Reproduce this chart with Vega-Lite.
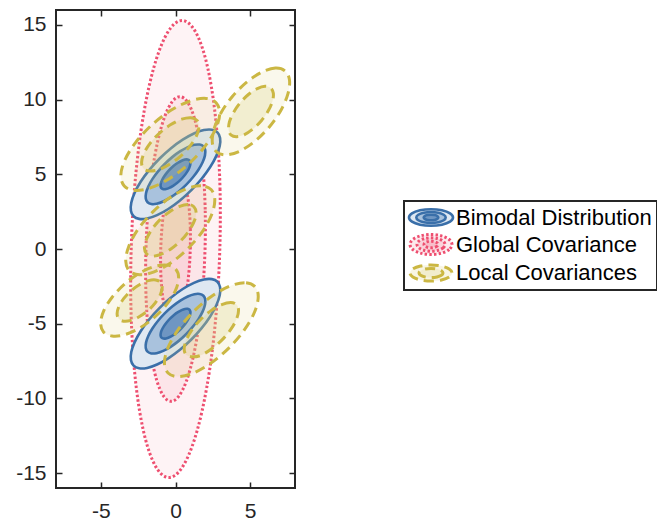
{
"$schema": "https://vega.github.io/schema/vega-lite/v6.json",
"padding": {"left": 5, "top": 8, "right": 0, "bottom": 0},
"config": {"font": "Liberation Sans", "view": {"stroke": null}},
"datasets": {
"bim": [
{"id":"u3","k":3,"i":0,"x":2.806,"y":7.806},{"id":"u3","k":3,"i":1,"x":2.436,"y":7.985},{"id":"u3","k":3,"i":2,"x":1.9,"y":7.961},{"id":"u3","k":3,"i":3,"x":1.234,"y":7.734},{"id":"u3","k":3,"i":4,"x":0.485,"y":7.322},{"id":"u3","k":3,"i":5,"x":-0.298,"y":6.751},{"id":"u3","k":3,"i":6,"x":-1.061,"y":6.061},{"id":"u3","k":3,"i":7,"x":-1.751,"y":5.298},{"id":"u3","k":3,"i":8,"x":-2.322,"y":4.515},{"id":"u3","k":3,"i":9,"x":-2.734,"y":3.766},{"id":"u3","k":3,"i":10,"x":-2.961,"y":3.1},{"id":"u3","k":3,"i":11,"x":-2.985,"y":2.564},{"id":"u3","k":3,"i":12,"x":-2.806,"y":2.194},{"id":"u3","k":3,"i":13,"x":-2.436,"y":2.015},{"id":"u3","k":3,"i":14,"x":-1.9,"y":2.039},{"id":"u3","k":3,"i":15,"x":-1.234,"y":2.266},{"id":"u3","k":3,"i":16,"x":-0.485,"y":2.678},{"id":"u3","k":3,"i":17,"x":0.298,"y":3.249},{"id":"u3","k":3,"i":18,"x":1.061,"y":3.939},{"id":"u3","k":3,"i":19,"x":1.751,"y":4.702},{"id":"u3","k":3,"i":20,"x":2.322,"y":5.485},{"id":"u3","k":3,"i":21,"x":2.734,"y":6.234},{"id":"u3","k":3,"i":22,"x":2.961,"y":6.9},{"id":"u3","k":3,"i":23,"x":2.985,"y":7.436},
{"id":"l3","k":3,"i":0,"x":2.806,"y":-2.194},{"id":"l3","k":3,"i":1,"x":2.436,"y":-2.015},{"id":"l3","k":3,"i":2,"x":1.9,"y":-2.039},{"id":"l3","k":3,"i":3,"x":1.234,"y":-2.266},{"id":"l3","k":3,"i":4,"x":0.485,"y":-2.678},{"id":"l3","k":3,"i":5,"x":-0.298,"y":-3.249},{"id":"l3","k":3,"i":6,"x":-1.061,"y":-3.939},{"id":"l3","k":3,"i":7,"x":-1.751,"y":-4.702},{"id":"l3","k":3,"i":8,"x":-2.322,"y":-5.485},{"id":"l3","k":3,"i":9,"x":-2.734,"y":-6.234},{"id":"l3","k":3,"i":10,"x":-2.961,"y":-6.9},{"id":"l3","k":3,"i":11,"x":-2.985,"y":-7.436},{"id":"l3","k":3,"i":12,"x":-2.806,"y":-7.806},{"id":"l3","k":3,"i":13,"x":-2.436,"y":-7.985},{"id":"l3","k":3,"i":14,"x":-1.9,"y":-7.961},{"id":"l3","k":3,"i":15,"x":-1.234,"y":-7.734},{"id":"l3","k":3,"i":16,"x":-0.485,"y":-7.322},{"id":"l3","k":3,"i":17,"x":0.298,"y":-6.751},{"id":"l3","k":3,"i":18,"x":1.061,"y":-6.061},{"id":"l3","k":3,"i":19,"x":1.751,"y":-5.298},{"id":"l3","k":3,"i":20,"x":2.322,"y":-4.515},{"id":"l3","k":3,"i":21,"x":2.734,"y":-3.766},{"id":"l3","k":3,"i":22,"x":2.961,"y":-3.1},{"id":"l3","k":3,"i":23,"x":2.985,"y":-2.564},
{"id":"u2","k":2,"i":0,"x":1.871,"y":6.871},{"id":"u2","k":2,"i":1,"x":1.624,"y":6.99},{"id":"u2","k":2,"i":2,"x":1.267,"y":6.974},{"id":"u2","k":2,"i":3,"x":0.823,"y":6.823},{"id":"u2","k":2,"i":4,"x":0.323,"y":6.548},{"id":"u2","k":2,"i":5,"x":-0.199,"y":6.167},{"id":"u2","k":2,"i":6,"x":-0.707,"y":5.707},{"id":"u2","k":2,"i":7,"x":-1.167,"y":5.199},{"id":"u2","k":2,"i":8,"x":-1.548,"y":4.677},{"id":"u2","k":2,"i":9,"x":-1.823,"y":4.177},{"id":"u2","k":2,"i":10,"x":-1.974,"y":3.733},{"id":"u2","k":2,"i":11,"x":-1.99,"y":3.376},{"id":"u2","k":2,"i":12,"x":-1.871,"y":3.129},{"id":"u2","k":2,"i":13,"x":-1.624,"y":3.01},{"id":"u2","k":2,"i":14,"x":-1.267,"y":3.026},{"id":"u2","k":2,"i":15,"x":-0.823,"y":3.177},{"id":"u2","k":2,"i":16,"x":-0.323,"y":3.452},{"id":"u2","k":2,"i":17,"x":0.199,"y":3.833},{"id":"u2","k":2,"i":18,"x":0.707,"y":4.293},{"id":"u2","k":2,"i":19,"x":1.167,"y":4.801},{"id":"u2","k":2,"i":20,"x":1.548,"y":5.323},{"id":"u2","k":2,"i":21,"x":1.823,"y":5.823},{"id":"u2","k":2,"i":22,"x":1.974,"y":6.267},{"id":"u2","k":2,"i":23,"x":1.99,"y":6.624},
{"id":"l2","k":2,"i":0,"x":1.871,"y":-3.129},{"id":"l2","k":2,"i":1,"x":1.624,"y":-3.01},{"id":"l2","k":2,"i":2,"x":1.267,"y":-3.026},{"id":"l2","k":2,"i":3,"x":0.823,"y":-3.177},{"id":"l2","k":2,"i":4,"x":0.323,"y":-3.452},{"id":"l2","k":2,"i":5,"x":-0.199,"y":-3.833},{"id":"l2","k":2,"i":6,"x":-0.707,"y":-4.293},{"id":"l2","k":2,"i":7,"x":-1.167,"y":-4.801},{"id":"l2","k":2,"i":8,"x":-1.548,"y":-5.323},{"id":"l2","k":2,"i":9,"x":-1.823,"y":-5.823},{"id":"l2","k":2,"i":10,"x":-1.974,"y":-6.267},{"id":"l2","k":2,"i":11,"x":-1.99,"y":-6.624},{"id":"l2","k":2,"i":12,"x":-1.871,"y":-6.871},{"id":"l2","k":2,"i":13,"x":-1.624,"y":-6.99},{"id":"l2","k":2,"i":14,"x":-1.267,"y":-6.974},{"id":"l2","k":2,"i":15,"x":-0.823,"y":-6.823},{"id":"l2","k":2,"i":16,"x":-0.323,"y":-6.548},{"id":"l2","k":2,"i":17,"x":0.199,"y":-6.167},{"id":"l2","k":2,"i":18,"x":0.707,"y":-5.707},{"id":"l2","k":2,"i":19,"x":1.167,"y":-5.199},{"id":"l2","k":2,"i":20,"x":1.548,"y":-4.677},{"id":"l2","k":2,"i":21,"x":1.823,"y":-4.177},{"id":"l2","k":2,"i":22,"x":1.974,"y":-3.733},{"id":"l2","k":2,"i":23,"x":1.99,"y":-3.376},
{"id":"u1","k":1,"i":0,"x":0.935,"y":5.935},{"id":"u1","k":1,"i":1,"x":0.812,"y":5.995},{"id":"u1","k":1,"i":2,"x":0.633,"y":5.987},{"id":"u1","k":1,"i":3,"x":0.411,"y":5.911},{"id":"u1","k":1,"i":4,"x":0.162,"y":5.774},{"id":"u1","k":1,"i":5,"x":-0.099,"y":5.584},{"id":"u1","k":1,"i":6,"x":-0.354,"y":5.354},{"id":"u1","k":1,"i":7,"x":-0.584,"y":5.099},{"id":"u1","k":1,"i":8,"x":-0.774,"y":4.838},{"id":"u1","k":1,"i":9,"x":-0.911,"y":4.589},{"id":"u1","k":1,"i":10,"x":-0.987,"y":4.367},{"id":"u1","k":1,"i":11,"x":-0.995,"y":4.188},{"id":"u1","k":1,"i":12,"x":-0.935,"y":4.065},{"id":"u1","k":1,"i":13,"x":-0.812,"y":4.005},{"id":"u1","k":1,"i":14,"x":-0.633,"y":4.013},{"id":"u1","k":1,"i":15,"x":-0.411,"y":4.089},{"id":"u1","k":1,"i":16,"x":-0.162,"y":4.226},{"id":"u1","k":1,"i":17,"x":0.099,"y":4.416},{"id":"u1","k":1,"i":18,"x":0.354,"y":4.646},{"id":"u1","k":1,"i":19,"x":0.584,"y":4.901},{"id":"u1","k":1,"i":20,"x":0.774,"y":5.162},{"id":"u1","k":1,"i":21,"x":0.911,"y":5.411},{"id":"u1","k":1,"i":22,"x":0.987,"y":5.633},{"id":"u1","k":1,"i":23,"x":0.995,"y":5.812},
{"id":"l1","k":1,"i":0,"x":0.935,"y":-4.065},{"id":"l1","k":1,"i":1,"x":0.812,"y":-4.005},{"id":"l1","k":1,"i":2,"x":0.633,"y":-4.013},{"id":"l1","k":1,"i":3,"x":0.411,"y":-4.089},{"id":"l1","k":1,"i":4,"x":0.162,"y":-4.226},{"id":"l1","k":1,"i":5,"x":-0.099,"y":-4.416},{"id":"l1","k":1,"i":6,"x":-0.354,"y":-4.646},{"id":"l1","k":1,"i":7,"x":-0.584,"y":-4.901},{"id":"l1","k":1,"i":8,"x":-0.774,"y":-5.162},{"id":"l1","k":1,"i":9,"x":-0.911,"y":-5.411},{"id":"l1","k":1,"i":10,"x":-0.987,"y":-5.633},{"id":"l1","k":1,"i":11,"x":-0.995,"y":-5.812},{"id":"l1","k":1,"i":12,"x":-0.935,"y":-5.935},{"id":"l1","k":1,"i":13,"x":-0.812,"y":-5.995},{"id":"l1","k":1,"i":14,"x":-0.633,"y":-5.987},{"id":"l1","k":1,"i":15,"x":-0.411,"y":-5.911},{"id":"l1","k":1,"i":16,"x":-0.162,"y":-5.774},{"id":"l1","k":1,"i":17,"x":0.099,"y":-5.584},{"id":"l1","k":1,"i":18,"x":0.354,"y":-5.354},{"id":"l1","k":1,"i":19,"x":0.584,"y":-5.099},{"id":"l1","k":1,"i":20,"x":0.774,"y":-4.838},{"id":"l1","k":1,"i":21,"x":0.911,"y":-4.589},{"id":"l1","k":1,"i":22,"x":0.987,"y":-4.367},{"id":"l1","k":1,"i":23,"x":0.995,"y":-4.188}
],
"glob": [
{"id":"g3","i":0,"x":2.967,"y":0},{"id":"g3","i":1,"x":2.982,"y":3.96},{"id":"g3","i":2,"x":2.79,"y":7.65},{"id":"g3","i":3,"x":2.409,"y":10.818},{"id":"g3","i":4,"x":1.866,"y":13.248},{"id":"g3","i":5,"x":1.194,"y":14.775},{"id":"g3","i":6,"x":0.441,"y":15.297},{"id":"g3","i":7,"x":-0.342,"y":14.775},{"id":"g3","i":8,"x":-1.101,"y":13.248},{"id":"g3","i":9,"x":-1.785,"y":10.818},{"id":"g3","i":10,"x":-2.349,"y":7.65},{"id":"g3","i":11,"x":-2.751,"y":3.96},{"id":"g3","i":12,"x":-2.967,"y":0},{"id":"g3","i":13,"x":-2.982,"y":-3.96},{"id":"g3","i":14,"x":-2.79,"y":-7.65},{"id":"g3","i":15,"x":-2.409,"y":-10.818},{"id":"g3","i":16,"x":-1.866,"y":-13.248},{"id":"g3","i":17,"x":-1.194,"y":-14.775},{"id":"g3","i":18,"x":-0.441,"y":-15.297},{"id":"g3","i":19,"x":0.342,"y":-14.775},{"id":"g3","i":20,"x":1.101,"y":-13.248},{"id":"g3","i":21,"x":1.785,"y":-10.818},{"id":"g3","i":22,"x":2.349,"y":-7.65},{"id":"g3","i":23,"x":2.751,"y":-3.96},
{"id":"g2","i":0,"x":1.978,"y":0},{"id":"g2","i":1,"x":1.988,"y":2.64},{"id":"g2","i":2,"x":1.86,"y":5.1},{"id":"g2","i":3,"x":1.606,"y":7.212},{"id":"g2","i":4,"x":1.244,"y":8.832},{"id":"g2","i":5,"x":0.796,"y":9.85},{"id":"g2","i":6,"x":0.294,"y":10.198},{"id":"g2","i":7,"x":-0.228,"y":9.85},{"id":"g2","i":8,"x":-0.734,"y":8.832},{"id":"g2","i":9,"x":-1.19,"y":7.212},{"id":"g2","i":10,"x":-1.566,"y":5.1},{"id":"g2","i":11,"x":-1.834,"y":2.64},{"id":"g2","i":12,"x":-1.978,"y":0},{"id":"g2","i":13,"x":-1.988,"y":-2.64},{"id":"g2","i":14,"x":-1.86,"y":-5.1},{"id":"g2","i":15,"x":-1.606,"y":-7.212},{"id":"g2","i":16,"x":-1.244,"y":-8.832},{"id":"g2","i":17,"x":-0.796,"y":-9.85},{"id":"g2","i":18,"x":-0.294,"y":-10.198},{"id":"g2","i":19,"x":0.228,"y":-9.85},{"id":"g2","i":20,"x":0.734,"y":-8.832},{"id":"g2","i":21,"x":1.19,"y":-7.212},{"id":"g2","i":22,"x":1.566,"y":-5.1},{"id":"g2","i":23,"x":1.834,"y":-2.64},
{"id":"g1","i":0,"x":0.989,"y":0},{"id":"g1","i":1,"x":0.994,"y":1.32},{"id":"g1","i":2,"x":0.93,"y":2.55},{"id":"g1","i":3,"x":0.803,"y":3.606},{"id":"g1","i":4,"x":0.622,"y":4.416},{"id":"g1","i":5,"x":0.398,"y":4.925},{"id":"g1","i":6,"x":0.147,"y":5.099},{"id":"g1","i":7,"x":-0.114,"y":4.925},{"id":"g1","i":8,"x":-0.367,"y":4.416},{"id":"g1","i":9,"x":-0.595,"y":3.606},{"id":"g1","i":10,"x":-0.783,"y":2.55},{"id":"g1","i":11,"x":-0.917,"y":1.32},{"id":"g1","i":12,"x":-0.989,"y":0},{"id":"g1","i":13,"x":-0.994,"y":-1.32},{"id":"g1","i":14,"x":-0.93,"y":-2.55},{"id":"g1","i":15,"x":-0.803,"y":-3.606},{"id":"g1","i":16,"x":-0.622,"y":-4.416},{"id":"g1","i":17,"x":-0.398,"y":-4.925},{"id":"g1","i":18,"x":-0.147,"y":-5.099},{"id":"g1","i":19,"x":0.114,"y":-4.925},{"id":"g1","i":20,"x":0.367,"y":-4.416},{"id":"g1","i":21,"x":0.595,"y":-3.606},{"id":"g1","i":22,"x":0.783,"y":-2.55},{"id":"g1","i":23,"x":0.917,"y":-1.32}
],
"loc": [
{"id":"L1o","r":"o","i":0,"x":7.33,"y":11.92},{"id":"L1o","r":"o","i":1,"x":6.69,"y":12.11},{"id":"L1o","r":"o","i":2,"x":5.8,"y":11.85},{"id":"L1o","r":"o","i":3,"x":4.79,"y":11.19},{"id":"L1o","r":"o","i":4,"x":3.82,"y":10.23},{"id":"L1o","r":"o","i":5,"x":3.04,"y":9.11},{"id":"L1o","r":"o","i":6,"x":2.57,"y":8.0},{"id":"L1o","r":"o","i":7,"x":2.47,"y":7.08},{"id":"L1o","r":"o","i":8,"x":2.77,"y":6.48},{"id":"L1o","r":"o","i":9,"x":3.41,"y":6.3},{"id":"L1o","r":"o","i":10,"x":4.3,"y":6.55},{"id":"L1o","r":"o","i":11,"x":5.31,"y":7.21},{"id":"L1o","r":"o","i":12,"x":6.28,"y":8.17},{"id":"L1o","r":"o","i":13,"x":7.06,"y":9.29},{"id":"L1o","r":"o","i":14,"x":7.53,"y":10.4},{"id":"L1o","r":"o","i":15,"x":7.63,"y":11.32},
{"id":"L1i","r":"i","i":0,"x":6.37,"y":10.78},{"id":"L1i","r":"i","i":1,"x":6.0,"y":10.89},{"id":"L1i","r":"i","i":2,"x":5.48,"y":10.74},{"id":"L1i","r":"i","i":3,"x":4.9,"y":10.36},{"id":"L1i","r":"i","i":4,"x":4.34,"y":9.8},{"id":"L1i","r":"i","i":5,"x":3.89,"y":9.15},{"id":"L1i","r":"i","i":6,"x":3.61,"y":8.51},{"id":"L1i","r":"i","i":7,"x":3.56,"y":7.97},{"id":"L1i","r":"i","i":8,"x":3.73,"y":7.62},{"id":"L1i","r":"i","i":9,"x":4.1,"y":7.52},{"id":"L1i","r":"i","i":10,"x":4.62,"y":7.66},{"id":"L1i","r":"i","i":11,"x":5.2,"y":8.05},{"id":"L1i","r":"i","i":12,"x":5.76,"y":8.6},{"id":"L1i","r":"i","i":13,"x":6.21,"y":9.25},{"id":"L1i","r":"i","i":14,"x":6.49,"y":9.89},{"id":"L1i","r":"i","i":15,"x":6.55,"y":10.43},
{"id":"L2o","r":"o","i":0,"x":2.73,"y":9.78},{"id":"L2o","r":"o","i":1,"x":2.04,"y":10.08},{"id":"L2o","r":"o","i":2,"x":0.98,"y":9.91},{"id":"L2o","r":"o","i":3,"x":-0.28,"y":9.3},{"id":"L2o","r":"o","i":4,"x":-1.55,"y":8.34},{"id":"L2o","r":"o","i":5,"x":-2.64,"y":7.17},{"id":"L2o","r":"o","i":6,"x":-3.38,"y":5.98},{"id":"L2o","r":"o","i":7,"x":-3.66,"y":4.95},{"id":"L2o","r":"o","i":8,"x":-3.43,"y":4.22},{"id":"L2o","r":"o","i":9,"x":-2.74,"y":3.92},{"id":"L2o","r":"o","i":10,"x":-1.68,"y":4.09},{"id":"L2o","r":"o","i":11,"x":-0.42,"y":4.7},{"id":"L2o","r":"o","i":12,"x":0.85,"y":5.66},{"id":"L2o","r":"o","i":13,"x":1.94,"y":6.83},{"id":"L2o","r":"o","i":14,"x":2.68,"y":8.02},{"id":"L2o","r":"o","i":15,"x":2.96,"y":9.05},
{"id":"L2i","r":"i","i":0,"x":1.44,"y":8.61},{"id":"L2i","r":"i","i":1,"x":1.04,"y":8.79},{"id":"L2i","r":"i","i":2,"x":0.42,"y":8.69},{"id":"L2i","r":"i","i":3,"x":-0.31,"y":8.33},{"id":"L2i","r":"i","i":4,"x":-1.05,"y":7.78},{"id":"L2i","r":"i","i":5,"x":-1.68,"y":7.1},{"id":"L2i","r":"i","i":6,"x":-2.11,"y":6.41},{"id":"L2i","r":"i","i":7,"x":-2.27,"y":5.81},{"id":"L2i","r":"i","i":8,"x":-2.14,"y":5.39},{"id":"L2i","r":"i","i":9,"x":-1.74,"y":5.22},{"id":"L2i","r":"i","i":10,"x":-1.12,"y":5.31},{"id":"L2i","r":"i","i":11,"x":-0.39,"y":5.67},{"id":"L2i","r":"i","i":12,"x":0.35,"y":6.22},{"id":"L2i","r":"i","i":13,"x":0.98,"y":6.9},{"id":"L2i","r":"i","i":14,"x":1.41,"y":7.59},{"id":"L2i","r":"i","i":15,"x":1.57,"y":8.19},
{"id":"L3o","r":"o","i":0,"x":2.38,"y":3.98},{"id":"L3o","r":"o","i":1,"x":1.71,"y":4.23},{"id":"L3o","r":"o","i":2,"x":0.73,"y":4.03},{"id":"L3o","r":"o","i":3,"x":-0.42,"y":3.41},{"id":"L3o","r":"o","i":4,"x":-1.55,"y":2.45},{"id":"L3o","r":"o","i":5,"x":-2.51,"y":1.32},{"id":"L3o","r":"o","i":6,"x":-3.13,"y":0.17},{"id":"L3o","r":"o","i":7,"x":-3.33,"y":-0.81},{"id":"L3o","r":"o","i":8,"x":-3.08,"y":-1.48},{"id":"L3o","r":"o","i":9,"x":-2.41,"y":-1.73},{"id":"L3o","r":"o","i":10,"x":-1.43,"y":-1.53},{"id":"L3o","r":"o","i":11,"x":-0.28,"y":-0.91},{"id":"L3o","r":"o","i":12,"x":0.85,"y":0.05},{"id":"L3o","r":"o","i":13,"x":1.81,"y":1.18},{"id":"L3o","r":"o","i":14,"x":2.43,"y":2.33},{"id":"L3o","r":"o","i":15,"x":2.63,"y":3.31},
{"id":"L3i","r":"i","i":0,"x":1.23,"y":2.83},{"id":"L3i","r":"i","i":1,"x":0.85,"y":2.98},{"id":"L3i","r":"i","i":2,"x":0.28,"y":2.86},{"id":"L3i","r":"i","i":3,"x":-0.39,"y":2.5},{"id":"L3i","r":"i","i":4,"x":-1.05,"y":1.95},{"id":"L3i","r":"i","i":5,"x":-1.6,"y":1.29},{"id":"L3i","r":"i","i":6,"x":-1.96,"y":0.62},{"id":"L3i","r":"i","i":7,"x":-2.08,"y":0.06},{"id":"L3i","r":"i","i":8,"x":-1.93,"y":-0.33},{"id":"L3i","r":"i","i":9,"x":-1.55,"y":-0.48},{"id":"L3i","r":"i","i":10,"x":-0.98,"y":-0.36},{"id":"L3i","r":"i","i":11,"x":-0.31,"y":0.0},{"id":"L3i","r":"i","i":12,"x":0.35,"y":0.55},{"id":"L3i","r":"i","i":13,"x":0.9,"y":1.21},{"id":"L3i","r":"i","i":14,"x":1.26,"y":1.88},{"id":"L3i","r":"i","i":15,"x":1.38,"y":2.44},
{"id":"L4o","r":"o","i":0,"x":0.02,"y":-1.35},{"id":"L4o","r":"o","i":1,"x":-0.55,"y":-1.08},{"id":"L4o","r":"o","i":2,"x":-1.39,"y":-1.17},{"id":"L4o","r":"o","i":3,"x":-2.39,"y":-1.6},{"id":"L4o","r":"o","i":4,"x":-3.38,"y":-2.32},{"id":"L4o","r":"o","i":5,"x":-4.23,"y":-3.21},{"id":"L4o","r":"o","i":6,"x":-4.8,"y":-4.13},{"id":"L4o","r":"o","i":7,"x":-5.01,"y":-4.96},{"id":"L4o","r":"o","i":8,"x":-4.82,"y":-5.55},{"id":"L4o","r":"o","i":9,"x":-4.25,"y":-5.82},{"id":"L4o","r":"o","i":10,"x":-3.41,"y":-5.74},{"id":"L4o","r":"o","i":11,"x":-2.41,"y":-5.3},{"id":"L4o","r":"o","i":12,"x":-1.42,"y":-4.58},{"id":"L4o","r":"o","i":13,"x":-0.57,"y":-3.69},{"id":"L4o","r":"o","i":14,"x":0.0,"y":-2.77},{"id":"L4o","r":"o","i":15,"x":0.21,"y":-1.94},
{"id":"L4i","r":"i","i":0,"x":-1.0,"y":-2.23},{"id":"L4i","r":"i","i":1,"x":-1.33,"y":-2.07},{"id":"L4i","r":"i","i":2,"x":-1.81,"y":-2.12},{"id":"L4i","r":"i","i":3,"x":-2.39,"y":-2.38},{"id":"L4i","r":"i","i":4,"x":-2.97,"y":-2.79},{"id":"L4i","r":"i","i":5,"x":-3.46,"y":-3.31},{"id":"L4i","r":"i","i":6,"x":-3.79,"y":-3.85},{"id":"L4i","r":"i","i":7,"x":-3.91,"y":-4.32},{"id":"L4i","r":"i","i":8,"x":-3.8,"y":-4.67},{"id":"L4i","r":"i","i":9,"x":-3.48,"y":-4.83},{"id":"L4i","r":"i","i":10,"x":-2.99,"y":-4.78},{"id":"L4i","r":"i","i":11,"x":-2.41,"y":-4.52},{"id":"L4i","r":"i","i":12,"x":-1.83,"y":-4.11},{"id":"L4i","r":"i","i":13,"x":-1.34,"y":-3.59},{"id":"L4i","r":"i","i":14,"x":-1.01,"y":-3.05},{"id":"L4i","r":"i","i":15,"x":-0.89,"y":-2.58},
{"id":"L5o","r":"o","i":0,"x":5.3,"y":-2.5},{"id":"L5o","r":"o","i":1,"x":4.62,"y":-2.26},{"id":"L5o","r":"o","i":2,"x":3.6,"y":-2.5},{"id":"L5o","r":"o","i":3,"x":2.4,"y":-3.18},{"id":"L5o","r":"o","i":4,"x":1.2,"y":-4.2},{"id":"L5o","r":"o","i":5,"x":0.18,"y":-5.4},{"id":"L5o","r":"o","i":6,"x":-0.5,"y":-6.6},{"id":"L5o","r":"o","i":7,"x":-0.74,"y":-7.62},{"id":"L5o","r":"o","i":8,"x":-0.5,"y":-8.3},{"id":"L5o","r":"o","i":9,"x":0.18,"y":-8.54},{"id":"L5o","r":"o","i":10,"x":1.2,"y":-8.3},{"id":"L5o","r":"o","i":11,"x":2.4,"y":-7.62},{"id":"L5o","r":"o","i":12,"x":3.6,"y":-6.6},{"id":"L5o","r":"o","i":13,"x":4.62,"y":-5.4},{"id":"L5o","r":"o","i":14,"x":5.3,"y":-4.2},{"id":"L5o","r":"o","i":15,"x":5.54,"y":-3.18},
{"id":"L5i","r":"i","i":0,"x":4.08,"y":-3.72},{"id":"L5i","r":"i","i":1,"x":3.69,"y":-3.58},{"id":"L5i","r":"i","i":2,"x":3.1,"y":-3.72},{"id":"L5i","r":"i","i":3,"x":2.4,"y":-4.11},{"id":"L5i","r":"i","i":4,"x":1.7,"y":-4.7},{"id":"L5i","r":"i","i":5,"x":1.11,"y":-5.4},{"id":"L5i","r":"i","i":6,"x":0.72,"y":-6.1},{"id":"L5i","r":"i","i":7,"x":0.58,"y":-6.69},{"id":"L5i","r":"i","i":8,"x":0.72,"y":-7.08},{"id":"L5i","r":"i","i":9,"x":1.11,"y":-7.22},{"id":"L5i","r":"i","i":10,"x":1.7,"y":-7.12},{"id":"L5i","r":"i","i":11,"x":2.4,"y":-6.69},{"id":"L5i","r":"i","i":12,"x":3.1,"y":-6.1},{"id":"L5i","r":"i","i":13,"x":3.69,"y":-5.4},{"id":"L5i","r":"i","i":14,"x":4.08,"y":-4.7},{"id":"L5i","r":"i","i":15,"x":4.22,"y":-4.11}
],
"icon": [
{"id":"b3","g":"b","k":3,"i":0,"x":49,"y":16.5},{"id":"b3","g":"b","k":3,"i":1,"x":46.05,"y":20.65},{"id":"b3","g":"b","k":3,"i":2,"x":38,"y":23.69},{"id":"b3","g":"b","k":3,"i":3,"x":27,"y":24.8},{"id":"b3","g":"b","k":3,"i":4,"x":16,"y":23.69},{"id":"b3","g":"b","k":3,"i":5,"x":7.95,"y":20.65},{"id":"b3","g":"b","k":3,"i":6,"x":5,"y":16.5},{"id":"b3","g":"b","k":3,"i":7,"x":7.95,"y":12.35},{"id":"b3","g":"b","k":3,"i":8,"x":16,"y":9.31},{"id":"b3","g":"b","k":3,"i":9,"x":27,"y":8.2},{"id":"b3","g":"b","k":3,"i":10,"x":38,"y":9.31},{"id":"b3","g":"b","k":3,"i":11,"x":46.05,"y":12.35},
{"id":"b2","g":"b","k":2,"i":0,"x":41.7,"y":16.5},{"id":"b2","g":"b","k":2,"i":1,"x":39.73,"y":19.25},{"id":"b2","g":"b","k":2,"i":2,"x":34.35,"y":21.26},{"id":"b2","g":"b","k":2,"i":3,"x":27,"y":22},{"id":"b2","g":"b","k":2,"i":4,"x":19.65,"y":21.26},{"id":"b2","g":"b","k":2,"i":5,"x":14.27,"y":19.25},{"id":"b2","g":"b","k":2,"i":6,"x":12.3,"y":16.5},{"id":"b2","g":"b","k":2,"i":7,"x":14.27,"y":13.75},{"id":"b2","g":"b","k":2,"i":8,"x":19.65,"y":11.74},{"id":"b2","g":"b","k":2,"i":9,"x":27,"y":11},{"id":"b2","g":"b","k":2,"i":10,"x":34.35,"y":11.74},{"id":"b2","g":"b","k":2,"i":11,"x":39.73,"y":13.75},
{"id":"b1","g":"b","k":1,"i":0,"x":34.3,"y":16.5},{"id":"b1","g":"b","k":1,"i":1,"x":33.32,"y":17.9},{"id":"b1","g":"b","k":1,"i":2,"x":30.65,"y":18.92},{"id":"b1","g":"b","k":1,"i":3,"x":27,"y":19.3},{"id":"b1","g":"b","k":1,"i":4,"x":23.35,"y":18.92},{"id":"b1","g":"b","k":1,"i":5,"x":20.68,"y":17.9},{"id":"b1","g":"b","k":1,"i":6,"x":19.7,"y":16.5},{"id":"b1","g":"b","k":1,"i":7,"x":20.68,"y":15.1},{"id":"b1","g":"b","k":1,"i":8,"x":23.35,"y":14.08},{"id":"b1","g":"b","k":1,"i":9,"x":27,"y":13.7},{"id":"b1","g":"b","k":1,"i":10,"x":30.65,"y":14.08},{"id":"b1","g":"b","k":1,"i":11,"x":33.32,"y":15.1},
{"id":"p3","g":"g","k":3,"i":0,"x":48,"y":43.5},{"id":"p3","g":"g","k":3,"i":1,"x":45.19,"y":48.5},{"id":"p3","g":"g","k":3,"i":2,"x":37.5,"y":52.16},{"id":"p3","g":"g","k":3,"i":3,"x":27,"y":53.5},{"id":"p3","g":"g","k":3,"i":4,"x":16.5,"y":52.16},{"id":"p3","g":"g","k":3,"i":5,"x":8.81,"y":48.5},{"id":"p3","g":"g","k":3,"i":6,"x":6,"y":43.5},{"id":"p3","g":"g","k":3,"i":7,"x":8.81,"y":38.5},{"id":"p3","g":"g","k":3,"i":8,"x":16.5,"y":34.84},{"id":"p3","g":"g","k":3,"i":9,"x":27,"y":33.5},{"id":"p3","g":"g","k":3,"i":10,"x":37.5,"y":34.84},{"id":"p3","g":"g","k":3,"i":11,"x":45.19,"y":38.5},
{"id":"p2","g":"g","k":2,"i":0,"x":41,"y":43.5},{"id":"p2","g":"g","k":2,"i":1,"x":39.12,"y":46.85},{"id":"p2","g":"g","k":2,"i":2,"x":34,"y":49.3},{"id":"p2","g":"g","k":2,"i":3,"x":27,"y":50.2},{"id":"p2","g":"g","k":2,"i":4,"x":20,"y":49.3},{"id":"p2","g":"g","k":2,"i":5,"x":14.88,"y":46.85},{"id":"p2","g":"g","k":2,"i":6,"x":13,"y":43.5},{"id":"p2","g":"g","k":2,"i":7,"x":14.88,"y":40.15},{"id":"p2","g":"g","k":2,"i":8,"x":20,"y":37.7},{"id":"p2","g":"g","k":2,"i":9,"x":27,"y":36.8},{"id":"p2","g":"g","k":2,"i":10,"x":34,"y":37.7},{"id":"p2","g":"g","k":2,"i":11,"x":39.12,"y":40.15},
{"id":"p1","g":"g","k":1,"i":0,"x":34,"y":43.5},{"id":"p1","g":"g","k":1,"i":1,"x":33.06,"y":45.15},{"id":"p1","g":"g","k":1,"i":2,"x":30.5,"y":46.36},{"id":"p1","g":"g","k":1,"i":3,"x":27,"y":46.8},{"id":"p1","g":"g","k":1,"i":4,"x":23.5,"y":46.36},{"id":"p1","g":"g","k":1,"i":5,"x":20.94,"y":45.15},{"id":"p1","g":"g","k":1,"i":6,"x":20,"y":43.5},{"id":"p1","g":"g","k":1,"i":7,"x":20.94,"y":41.85},{"id":"p1","g":"g","k":1,"i":8,"x":23.5,"y":40.64},{"id":"p1","g":"g","k":1,"i":9,"x":27,"y":40.2},{"id":"p1","g":"g","k":1,"i":10,"x":30.5,"y":40.64},{"id":"p1","g":"g","k":1,"i":11,"x":33.06,"y":41.85},
{"id":"q2","g":"l","k":2,"i":0,"x":48,"y":72},{"id":"q2","g":"l","k":2,"i":1,"x":45.19,"y":76},{"id":"q2","g":"l","k":2,"i":2,"x":37.5,"y":78.93},{"id":"q2","g":"l","k":2,"i":3,"x":27,"y":80},{"id":"q2","g":"l","k":2,"i":4,"x":16.5,"y":78.93},{"id":"q2","g":"l","k":2,"i":5,"x":8.81,"y":76},{"id":"q2","g":"l","k":2,"i":6,"x":6,"y":72},{"id":"q2","g":"l","k":2,"i":7,"x":8.81,"y":68},{"id":"q2","g":"l","k":2,"i":8,"x":16.5,"y":65.07},{"id":"q2","g":"l","k":2,"i":9,"x":27,"y":64},{"id":"q2","g":"l","k":2,"i":10,"x":37.5,"y":65.07},{"id":"q2","g":"l","k":2,"i":11,"x":45.19,"y":68},
{"id":"q1","g":"l","k":1,"i":0,"x":39,"y":72},{"id":"q1","g":"l","k":1,"i":1,"x":37.39,"y":74.3},{"id":"q1","g":"l","k":1,"i":2,"x":33,"y":75.98},{"id":"q1","g":"l","k":1,"i":3,"x":27,"y":76.6},{"id":"q1","g":"l","k":1,"i":4,"x":21,"y":75.98},{"id":"q1","g":"l","k":1,"i":5,"x":16.61,"y":74.3},{"id":"q1","g":"l","k":1,"i":6,"x":15,"y":72},{"id":"q1","g":"l","k":1,"i":7,"x":16.61,"y":69.7},{"id":"q1","g":"l","k":1,"i":8,"x":21,"y":68.02},{"id":"q1","g":"l","k":1,"i":9,"x":27,"y":67.4},{"id":"q1","g":"l","k":1,"i":10,"x":33,"y":68.02},{"id":"q1","g":"l","k":1,"i":11,"x":37.39,"y":69.7}
],
"leg": [
{"label":"Bimodal Distribution","x":52,"y":16.5},
{"label":"Global Covariance","x":52,"y":43.5},
{"label":"Local Covariances","x":52,"y":71.5}
]
},
"spacing": 105,
"hconcat": [
{
"width": 239, "height": 478,
"view": {"stroke": "#262626", "strokeWidth": 2},
"resolve": {"axis": {"x": "independent", "y": "independent"}},
"layer": [
{"data": {"name": "glob"},
 "mark": {"type": "line", "interpolate": "cardinal-closed", "fill": "#f06e87", "stroke": "#ee4f70", "strokeWidth": 3, "strokeDash": [2.4, 2.2]},
 "encoding": {
  "x": {"field": "x", "type": "quantitative", "scale": {"domain": [-8, 8], "nice": false, "zero": false},
   "axis": {"orient": "bottom", "values": [-5, 0, 5], "labelExpr": "'' + datum.value", "title": null, "grid": false, "domain": false, "tickSize": -6, "tickWidth": 1.5, "tickColor": "#262626", "labelPadding": 18, "labelFontSize": 21, "labelColor": "#262626", "labelFont": "Liberation Sans", "minExtent": 35, "maxExtent": 35}},
  "y": {"field": "y", "type": "quantitative", "scale": {"domain": [-16, 16], "nice": false, "zero": false},
   "axis": {"orient": "left", "values": [-15, -10, -5, 0, 5, 10, 15], "labelExpr": "'' + datum.value", "title": null, "grid": false, "domain": false, "tickSize": -6, "tickWidth": 1.5, "tickColor": "#262626", "labelPadding": 16, "labelFontSize": 21, "labelColor": "#262626", "labelFont": "Liberation Sans", "minExtent": 50, "maxExtent": 50}},
  "fillOpacity": {"field": "id", "type": "nominal", "scale": {"domain": ["g3", "g2", "g1"], "range": [0.083, 0.2, 0.15]}, "legend": null},
  "detail": {"field": "id"}, "order": {"field": "i"}}},
{"data": {"name": "bim"}, "transform": [{"filter": "datum.k == 3"}],
 "mark": {"type": "line", "interpolate": "cardinal-closed", "fill": "#dfe8f2", "stroke": "#3a6fa9", "strokeWidth": 2.6},
 "encoding": {
  "x": {"field": "x", "type": "quantitative", "scale": {"domain": [-8, 8], "nice": false, "zero": false}, "axis": null},
  "y": {"field": "y", "type": "quantitative", "scale": {"domain": [-16, 16], "nice": false, "zero": false}, "axis": null},
  "detail": {"field": "id"}, "order": {"field": "i"}}},
{"data": {"name": "bim"}, "transform": [{"filter": "datum.k == 2"}],
 "mark": {"type": "line", "interpolate": "cardinal-closed", "fill": "#a9c2dd", "stroke": "#3a6fa9", "strokeWidth": 2.6},
 "encoding": {
  "x": {"field": "x", "type": "quantitative", "scale": {"domain": [-8, 8], "nice": false, "zero": false}, "axis": null},
  "y": {"field": "y", "type": "quantitative", "scale": {"domain": [-16, 16], "nice": false, "zero": false}, "axis": null},
  "detail": {"field": "id"}, "order": {"field": "i"}}},
{"data": {"name": "bim"}, "transform": [{"filter": "datum.k == 1"}],
 "mark": {"type": "line", "interpolate": "cardinal-closed", "fill": "#6f96c2", "stroke": "#3a6fa9", "strokeWidth": 2.6},
 "encoding": {
  "x": {"field": "x", "type": "quantitative", "scale": {"domain": [-8, 8], "nice": false, "zero": false}, "axis": null},
  "y": {"field": "y", "type": "quantitative", "scale": {"domain": [-16, 16], "nice": false, "zero": false}, "axis": null},
  "detail": {"field": "id"}, "order": {"field": "i"}}},
{"data": {"name": "loc"}, "transform": [{"filter": "datum.r == 'o'"}],
 "mark": {"type": "line", "interpolate": "cardinal-closed", "fill": "#dccf7a", "fillOpacity": 0.14, "stroke": "#cbb743", "strokeWidth": 3, "strokeDash": [10, 6]},
 "encoding": {
  "x": {"field": "x", "type": "quantitative", "scale": {"domain": [-8, 8], "nice": false, "zero": false}, "axis": null},
  "y": {"field": "y", "type": "quantitative", "scale": {"domain": [-16, 16], "nice": false, "zero": false}, "axis": null},
  "detail": {"field": "id"}, "order": {"field": "i"}}},
{"data": {"name": "loc"}, "transform": [{"filter": "datum.r == 'i'"}],
 "mark": {"type": "line", "interpolate": "cardinal-closed", "fill": "#dccf7a", "fillOpacity": 0.25, "stroke": "#cbb743", "strokeWidth": 3, "strokeDash": [10, 6]},
 "encoding": {
  "x": {"field": "x", "type": "quantitative", "scale": {"domain": [-8, 8], "nice": false, "zero": false},
   "axis": {"orient": "top", "values": [-5, 0, 5], "labels": false, "title": null, "grid": false, "domain": false, "tickSize": -6, "tickWidth": 1.5, "tickColor": "#262626", "minExtent": 0, "maxExtent": 0}},
  "y": {"field": "y", "type": "quantitative", "scale": {"domain": [-16, 16], "nice": false, "zero": false},
   "axis": {"orient": "right", "values": [-15, -10, -5, 0, 5, 10, 15], "labels": false, "title": null, "grid": false, "domain": false, "tickSize": -6, "tickWidth": 1.5, "tickColor": "#262626", "minExtent": 0, "maxExtent": 0}},
  "detail": {"field": "id"}, "order": {"field": "i"}}}
]
},
{
"spacing": 5,
"vconcat": [
{"width": 253, "height": 185, "data": {"values": []}, "mark": "point"},
{
"width": 253, "height": 89,
"view": {"stroke": "#262626", "strokeWidth": 2},
"layer": [
{"data": {"name": "icon"}, "transform": [{"filter": "datum.g == 'g'"}],
 "mark": {"type": "line", "interpolate": "cardinal-closed", "fill": "#f06e87", "stroke": "#ee4f70", "strokeWidth": 3, "strokeDash": [2.4, 2.2]},
 "encoding": {
  "x": {"field": "x", "type": "quantitative", "scale": {"domain": [0, 253], "nice": false, "zero": false}, "axis": null},
  "y": {"field": "y", "type": "quantitative", "scale": {"domain": [0, 89], "nice": false, "zero": false, "reverse": true}, "axis": null},
  "fillOpacity": {"field": "id", "type": "nominal", "scale": {"domain": ["p3", "p2", "p1"], "range": [0.083, 0.2, 0.15]}, "legend": null},
  "detail": {"field": "id"}, "order": {"field": "i"}}},
{"data": {"name": "icon"}, "transform": [{"filter": "datum.g == 'b' && datum.k == 3"}],
 "mark": {"type": "line", "interpolate": "cardinal-closed", "fill": "#dfe8f2", "stroke": "#3a6fa9", "strokeWidth": 2.6},
 "encoding": {
  "x": {"field": "x", "type": "quantitative", "scale": {"domain": [0, 253], "nice": false, "zero": false}, "axis": null},
  "y": {"field": "y", "type": "quantitative", "scale": {"domain": [0, 89], "nice": false, "zero": false, "reverse": true}, "axis": null},
  "detail": {"field": "id"}, "order": {"field": "i"}}},
{"data": {"name": "icon"}, "transform": [{"filter": "datum.g == 'b' && datum.k == 2"}],
 "mark": {"type": "line", "interpolate": "cardinal-closed", "fill": "#a9c2dd", "stroke": "#3a6fa9", "strokeWidth": 2.6},
 "encoding": {
  "x": {"field": "x", "type": "quantitative", "scale": {"domain": [0, 253], "nice": false, "zero": false}, "axis": null},
  "y": {"field": "y", "type": "quantitative", "scale": {"domain": [0, 89], "nice": false, "zero": false, "reverse": true}, "axis": null},
  "detail": {"field": "id"}, "order": {"field": "i"}}},
{"data": {"name": "icon"}, "transform": [{"filter": "datum.g == 'b' && datum.k == 1"}],
 "mark": {"type": "line", "interpolate": "cardinal-closed", "fill": "#6f96c2", "stroke": "#3a6fa9", "strokeWidth": 2.6},
 "encoding": {
  "x": {"field": "x", "type": "quantitative", "scale": {"domain": [0, 253], "nice": false, "zero": false}, "axis": null},
  "y": {"field": "y", "type": "quantitative", "scale": {"domain": [0, 89], "nice": false, "zero": false, "reverse": true}, "axis": null},
  "detail": {"field": "id"}, "order": {"field": "i"}}},
{"data": {"name": "icon"}, "transform": [{"filter": "datum.g == 'l'"}],
 "mark": {"type": "line", "interpolate": "cardinal-closed", "fill": "#dccf7a", "fillOpacity": 0.2, "stroke": "#cbb743", "strokeWidth": 3, "strokeDash": [10, 6]},
 "encoding": {
  "x": {"field": "x", "type": "quantitative", "scale": {"domain": [0, 253], "nice": false, "zero": false}, "axis": null},
  "y": {"field": "y", "type": "quantitative", "scale": {"domain": [0, 89], "nice": false, "zero": false, "reverse": true}, "axis": null},
  "detail": {"field": "id"}, "order": {"field": "i"}}},
{"data": {"name": "leg"},
 "mark": {"type": "text", "align": "left", "baseline": "middle", "fontSize": 22, "font": "Liberation Sans", "color": "#000000"},
 "encoding": {
  "x": {"field": "x", "type": "quantitative", "scale": {"domain": [0, 253], "nice": false, "zero": false}, "axis": null},
  "y": {"field": "y", "type": "quantitative", "scale": {"domain": [0, 89], "nice": false, "zero": false, "reverse": true}, "axis": null},
  "text": {"field": "label"}}}
]
}
]
}
]
}
